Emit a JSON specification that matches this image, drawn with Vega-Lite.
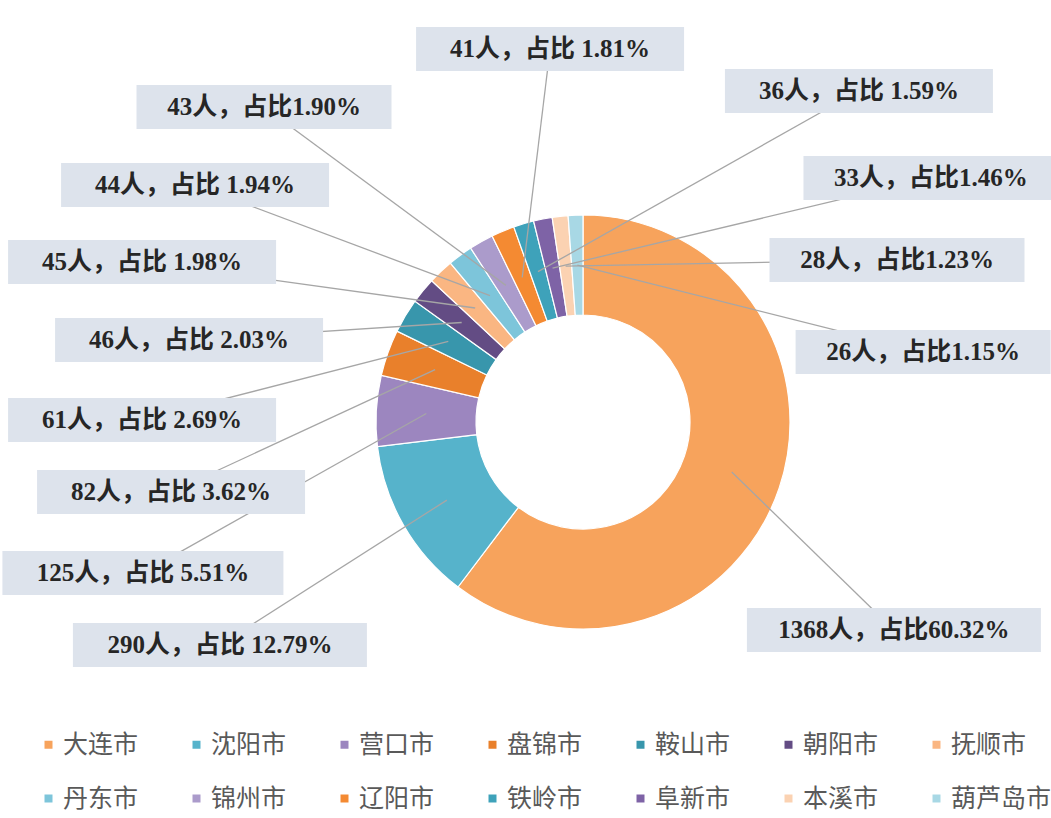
{
  "$schema": "https://vega.github.io/schema/vega-lite/v6.json",
  "width": 1051,
  "height": 818,
  "autosize": {"type": "none"},
  "padding": 0,
  "background": "#ffffff",
  "config": {"view": {"stroke": null}},
  "data": {
    "values": [
      {"idx": 1, "city": "大连市", "n": 1368, "label": "1368人，占比60.32%", "lx": 1.502, "ly": -1.005},
      {"idx": 2, "city": "沈阳市", "n": 290, "label": "290人，占比 12.79%", "lx": -1.754, "ly": -1.077},
      {"idx": 3, "city": "营口市", "n": 125, "label": "125人，占比 5.51%", "lx": -2.126, "ly": -0.729},
      {"idx": 4, "city": "盘锦市", "n": 82, "label": "82人，占比 3.62%", "lx": -1.990, "ly": -0.338},
      {"idx": 5, "city": "鞍山市", "n": 61, "label": "61人，占比 2.69%", "lx": -2.130, "ly": 0.010},
      {"idx": 6, "city": "朝阳市", "n": 46, "label": "46人，占比 2.03%", "lx": -1.903, "ly": 0.396},
      {"idx": 7, "city": "抚顺市", "n": 45, "label": "45人，占比 1.98%", "lx": -2.130, "ly": 0.773},
      {"idx": 8, "city": "丹东市", "n": 44, "label": "44人，占比 1.94%", "lx": -1.874, "ly": 1.145},
      {"idx": 9, "city": "锦州市", "n": 43, "label": "43人，占比1.90%", "lx": -1.541, "ly": 1.522},
      {"idx": 10, "city": "辽阳市", "n": 41, "label": "41人，占比 1.81%", "lx": -0.159, "ly": 1.802},
      {"idx": 11, "city": "铁岭市", "n": 36, "label": "36人，占比 1.59%", "lx": 1.333, "ly": 1.599},
      {"idx": 12, "city": "阜新市", "n": 33, "label": "33人，占比1.46%", "lx": 1.681, "ly": 1.179},
      {"idx": 13, "city": "本溪市", "n": 28, "label": "28人，占比1.23%", "lx": 1.517, "ly": 0.783},
      {"idx": 14, "city": "葫芦岛市", "n": 26, "label": "26人，占比1.15%", "lx": 1.643, "ly": 0.338}
    ]
  },
  "layer": [
    {
      "mark": {"type": "arc", "outerRadius": 207, "innerRadius": 107, "stroke": "#ffffff", "strokeWidth": 1.2},
      "encoding": {
        "x": {"datum": 0, "type": "quantitative", "scale": {"domain": [-2.8164, 2.2609], "nice": false, "zero": false}, "axis": null},
        "y": {"datum": 0, "type": "quantitative", "scale": {"domain": [-1.9130, 2.0386], "nice": false, "zero": false}, "axis": null},
        "theta": {"field": "n", "type": "quantitative", "stack": true},
        "order": {"field": "idx", "type": "quantitative"},
        "color": {
          "field": "city",
          "type": "nominal",
          "scale": {
            "domain": ["大连市", "沈阳市", "营口市", "盘锦市", "鞍山市", "朝阳市", "抚顺市", "丹东市", "锦州市", "辽阳市", "铁岭市", "阜新市", "本溪市", "葫芦岛市"],
            "range": ["#F7A35C", "#56B3CB", "#9C86BF", "#E9802B", "#3896AC", "#634C84", "#FAB682", "#7DC5DA", "#AB9BCB", "#F48A32", "#3EA2BA", "#7E63A6", "#FBD2B2", "#A8D8E5"]
          },
          "legend": {
            "title": null,
            "orient": "none",
            "legendX": 36,
            "legendY": 732,
            "direction": "horizontal",
            "columns": 7,
            "gridAlign": "all",
            "columnPadding": 20,
            "rowPadding": 28,
            "symbolType": "square",
            "symbolSize": 64,
            "symbolStrokeWidth": 0,
            "labelFont": "Noto Sans CJK SC",
            "labelFontSize": 25,
            "labelColor": "#595959",
            "labelOffset": 2,
            "labelLimit": 200,
            "padding": 0
          }
        }
      }
    },
    {
      "transform": [
        {"window": [{"op": "sum", "field": "n", "as": "cum"}], "sort": [{"field": "idx"}], "frame": [null, 0]},
        {"joinaggregate": [{"op": "sum", "field": "n", "as": "total"}]},
        {"calculate": "2 * PI * (datum.cum - datum.n / 2) / datum.total", "as": "a"},
        {"calculate": "0.758 * sin(datum.a)", "as": "sx"},
        {"calculate": "0.758 * cos(datum.a)", "as": "sy"}
      ],
      "mark": {"type": "rule", "color": "#A6A6A6", "strokeWidth": 1.3},
      "encoding": {
        "x": {"field": "sx", "type": "quantitative"},
        "y": {"field": "sy", "type": "quantitative"},
        "x2": {"field": "lx"},
        "y2": {"field": "ly"}
      }
    },
    {
      "transform": [
        {"calculate": "(104 + 13 * (length(datum.label) - 4) + 60) / 207 / 2", "as": "hw"},
        {"calculate": "datum.lx - datum.hw", "as": "bx1"},
        {"calculate": "datum.lx + datum.hw", "as": "bx2"},
        {"calculate": "datum.ly - 22 / 207", "as": "by1"},
        {"calculate": "datum.ly + 22 / 207", "as": "by2"}
      ],
      "mark": {"type": "rect", "fill": "#DDE3EC"},
      "encoding": {
        "x": {"field": "bx1", "type": "quantitative"},
        "x2": {"field": "bx2"},
        "y": {"field": "by1", "type": "quantitative"},
        "y2": {"field": "by2"}
      }
    },
    {
      "mark": {"type": "text", "font": "Liberation Serif, Noto Sans CJK SC", "fontWeight": "bold", "fontSize": 25, "color": "#262626", "align": "center", "baseline": "middle"},
      "encoding": {
        "x": {"field": "lx", "type": "quantitative"},
        "y": {"field": "ly", "type": "quantitative"},
        "text": {"field": "label"}
      }
    }
  ]
}
